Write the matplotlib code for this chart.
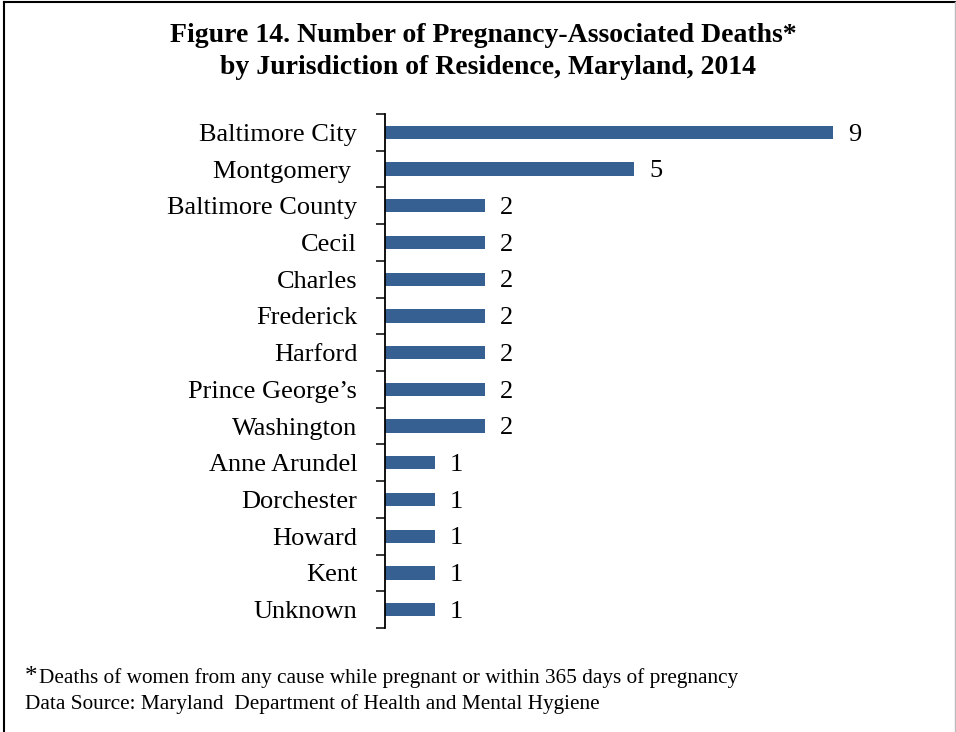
import matplotlib.pyplot as plt
from matplotlib.lines import Line2D

jurisdictions = ["Baltimore City", "Montgomery ", "Baltimore County", "Cecil", "Charles",
                 "Frederick", "Harford", "Prince George\u2019s", "Washington",
                 "Anne Arundel", "Dorchester", "Howard", "Kent", "Unknown"]
deaths = [9, 5, 2, 2, 2, 2, 2, 2, 2, 1, 1, 1, 1, 1]

title1 = "Figure 14. Number of Pregnancy-Associated Deaths*"
title2 = "by Jurisdiction of Residence, Maryland, 2014"
note1 = "Deaths of women from any cause while pregnant or within 365 days of pregnancy"
note2 = "Data Source: Maryland  Department of Health and Mental Hygiene"

plt.rcParams["font.family"] = "Liberation Serif"

W, H = 956, 732
fig = plt.figure(figsize=(W / 100, H / 100), dpi=100)
ax = fig.add_axes([385 / W, 1 - 628 / H, 498 / W, (628 - 114) / H])

n = len(jurisdictions)
ypos = list(range(n))
ax.barh(ypos, deaths, height=0.36, color="#376092")
for y, v in zip(ypos, deaths):
    ax.text(v + 0.3, y + 0.06, str(v), va="center", ha="left", fontsize=19)

ax.set_ylim(n - 0.5, -0.5)
ax.set_xlim(0, 10)
ax.set_yticks(ypos)
ax.set_yticklabels(jurisdictions, fontsize=19)
ax.tick_params(axis="y", which="major", length=0, pad=20)
ax.set_yticks([i - 0.5 for i in range(n + 1)], minor=True)
ax.tick_params(axis="y", which="minor", length=6.5, width=1.1, direction="out")
ax.set_xticks([])
for s in ["top", "right", "bottom"]:
    ax.spines[s].set_visible(False)
ax.spines["left"].set_linewidth(1.3)

fig.text(483 / W, 1 - 42 / H, title1, ha="center", va="baseline", fontsize=20,
         fontweight="bold")
fig.text(488 / W, 1 - 74 / H, title2, ha="center", va="baseline", fontsize=20,
         fontweight="bold")

fig.text(25 / W, 1 - 683 / H, "*", ha="left", va="baseline", fontsize=18)
fig.text(39 / W, 1 - 683 / H, note1, ha="left", va="baseline", fontsize=15.3)
fig.text(25 / W, 1 - 709 / H, note2, ha="left", va="baseline", fontsize=15.3)

# frame around the figure
fig.add_artist(Line2D([4 / W, 4 / W], [0, 1 - 2 / H], color="black", lw=1.5))
fig.add_artist(Line2D([4 / W, 1], [1 - 2 / H, 1 - 2 / H], color="black", lw=1.5))
fig.add_artist(Line2D([954.5 / W, 954.5 / W], [0, 1 - 2 / H], color="#bbbbbb", lw=1))

fig.savefig("out.png", dpi=100, facecolor="white")
